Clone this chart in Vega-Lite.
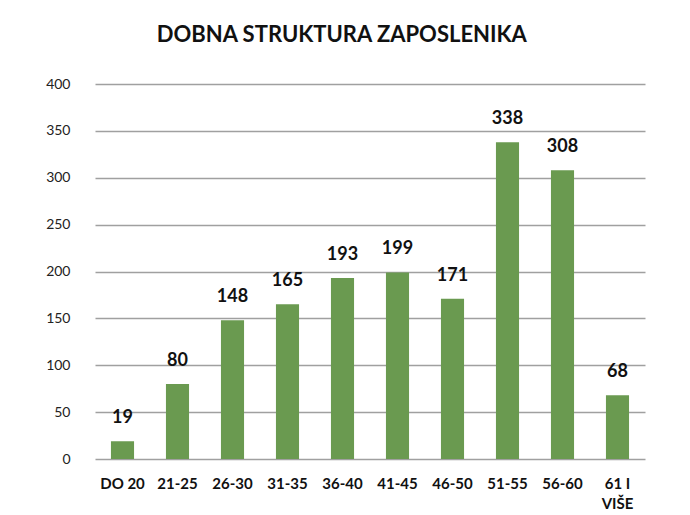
{
  "$schema": "https://vega.github.io/schema/vega-lite/v6.json",
  "autosize": {"type": "none"},
  "width": 550,
  "height": 375,
  "padding": {"left": 88, "top": 84, "right": 52, "bottom": 56},
  "background": "white",
  "title": {
    "text": "DOBNA STRUKTURA ZAPOSLENIKA",
    "font": "Lato",
    "fontSize": 22,
    "fontWeight": "bold",
    "color": "#111111",
    "anchor": "middle",
    "frame": "bounds",
    "offset": 30
  },
  "data": {
    "values": [
      {"grupa": "DO 20", "broj": 19},
      {"grupa": "21-25", "broj": 80},
      {"grupa": "26-30", "broj": 148},
      {"grupa": "31-35", "broj": 165},
      {"grupa": "36-40", "broj": 193},
      {"grupa": "41-45", "broj": 199},
      {"grupa": "46-50", "broj": 171},
      {"grupa": "51-55", "broj": 338},
      {"grupa": "56-60", "broj": 308},
      {"grupa": "61 I VIŠE", "broj": 68}
    ]
  },
  "encoding": {
    "x": {
      "field": "grupa",
      "type": "nominal",
      "sort": null,
      "scale": {"range": [7, 557], "paddingInner": 0.58, "paddingOuter": 0.29},
      "axis": {
        "title": null,
        "labelAngle": 0,
        "domain": false,
        "ticks": false,
        "labelFont": "Lato",
        "labelFontSize": 15,
        "labelFontWeight": "bold",
        "labelColor": "#111111",
        "labelPadding": 17,
        "labelLineHeight": 20,
        "labelExpr": "datum.value == '61 I VIŠE' ? ['61 I', 'VIŠE'] : datum.value"
      }
    },
    "y": {
      "field": "broj",
      "type": "quantitative",
      "scale": {"domain": [0, 400]},
      "axis": {
        "title": null,
        "values": [0, 50, 100, 150, 200, 250, 300, 350, 400],
        "domain": false,
        "ticks": false,
        "labelFont": "Lato",
        "labelFontSize": 14,
        "labelColor": "#222222",
        "labelPadding": 18,
        "gridColor": "#a0a0a0",
        "gridWidth": 1.5,
        "gridOpacity": 1
      }
    }
  },
  "layer": [
    {"mark": {"type": "bar", "color": "#6a9a50"}},
    {
      "mark": {"type": "text", "dy": -23, "font": "Lato", "fontSize": 18, "fontWeight": "bold", "color": "#111111"},
      "encoding": {"text": {"field": "broj", "type": "quantitative"}}
    }
  ],
  "config": {"view": {"stroke": null}}
}
